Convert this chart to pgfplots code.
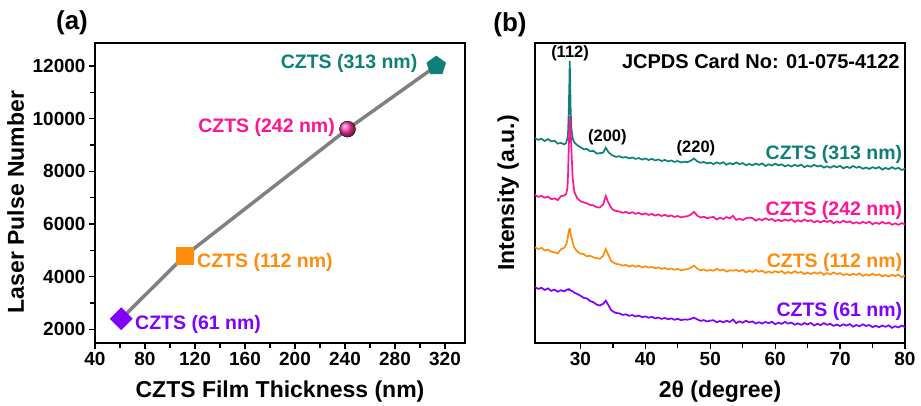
\documentclass[border=0pt]{standalone}
\usepackage{pgfplots}
\pgfplotsset{compat=1.18}
\usepackage{pgfplotstable}
\usepackage{fontspec}
\setmainfont{Liberation Sans}

\definecolor{cTeal}{HTML}{0E8078}
\definecolor{cPink}{HTML}{FF1493}
\definecolor{cOrange}{HTML}{FF8C0A}
\definecolor{cViolet}{HTML}{8000FF}
\definecolor{cLine}{HTML}{808080}

\newcommand\fs[1]{\fontsize{#1}{#1}\selectfont\bfseries}

% XRD patterns, offset stacked (arbitrary units)
\pgfplotstableread{
x     t      p      o      v
23.0  204.8  148.1  95.6   55.9
23.5  203.1  146.2  94.0   54.1
24.0  204.2  147.0  95.1   55.2
24.5  202.0  145.3  92.6   53.0
25.0  203.9  146.4  93.4   54.6
25.5  201.6  143.8  91.2   52.1
26.0  202.3  144.6  90.8   53.4
26.5  199.4  142.9  89.5   51.3
27.0  200.1  146.8  93.7   52.8
27.5  198.6  147.5  95.2   51.6
27.8  200.0  148.9  98.6   52.9
28.0  205.0  155.0  103.0  53.4
28.1  212.0  170.0  108.0  53.8
28.2  232.0  195.0  111.5  53.2
28.3  262.0  215.0  114.0  53.6
28.35 282.0  222.0  114.2  53.1
28.4  268.0  227.0  113.5  53.0
28.5  232.0  210.0  108.5  52.6
28.6  215.0  195.0  106.0  52.2
28.8  205.0  165.0  101.0  51.8
29.0  201.0  154.0  96.2   50.6
29.1  200.3  150.5  95.0   50.2
29.5  197.8  144.7  91.6   49.1
30.0  195.9  141.8  89.4   47.3
30.5  193.8  140.6  88.9   45.1
31.0  194.0  139.5  86.6   44.6
31.5  191.7  138.1  87.3   41.9
32.0  192.2  137.6  85.5   40.8
32.5  189.5  135.8  84.9   38.4
33.0  189.8  135.4  84.2   37.5
33.5  190.4  138.6  87.3   39.2
33.9  195.2  147.0  94.0   42.3
34.3  191.0  140.4  88.1   38.0
34.7  188.6  135.6  82.4   33.2
35.0  187.4  133.3  80.6   31.5
35.5  186.1  132.0  79.1   30.0
36.0  186.8  131.5  78.6   29.6
36.5  185.3  130.2  77.4   28.1
37.0  186.0  131.1  78.0   28.7
37.5  184.6  129.6  76.5   27.2
38.0  185.5  130.8  77.6   27.9
38.5  184.1  129.2  76.3   26.5
39.0  184.9  130.1  77.2   27.4
39.5  183.4  128.5  75.6   25.8
40.0  184.6  129.7  76.8   26.6
40.5  183.0  128.1  75.4   25.2
41.0  184.2  129.0  76.1   26.3
41.5  182.6  127.4  74.7   24.6
42.0  183.5  128.6  75.6   25.5
42.5  182.0  127.0  74.1   24.1
43.0  183.1  128.2  75.0   25.0
43.5  181.6  126.6  73.6   23.8
44.0  182.5  127.5  74.5   24.6
44.5  181.1  126.1  73.2   23.2
45.0  182.0  127.0  74.1   24.2
45.5  180.5  125.6  72.6   22.8
46.0  181.4  126.4  73.4   23.6
46.5  180.9  126.8  73.9   23.3
47.0  182.3  128.4  75.2   24.1
47.5  184.5  131.2  77.4   25.4
48.0  181.6  127.3  74.3   23.6
48.5  180.2  125.5  72.8   22.1
49.0  181.0  126.3  73.6   22.9
49.5  179.6  124.8  72.2   21.5
50.0  180.4  125.6  73.1   22.4
50.5  178.9  126.1  72.2   22.8
51.0  180.6  123.5  74.2   20.7
51.5  179.3  125.2  72.5   22.0
52.0  180.8  123.9  73.5   20.6
52.5  178.2  125.9  71.4   22.3
53.0  179.9  124.7  72.7   21.0
53.5  178.6  127.2  72.3   23.5
54.0  180.6  123.1  73.0   19.9
54.5  178.9  124.4  71.7   21.6
55.0  179.9  123.0  73.2   20.3
55.5  177.8  124.7  70.6   22.3
56.0  179.1  125.4  72.3   20.6
56.5  177.7  124.9  71.0   21.6
57.0  179.4  122.3  73.0   19.5
57.5  178.1  124.0  71.3   20.8
58.0  179.6  122.7  72.3   19.4
58.5  177.0  124.7  70.2   21.1
59.0  178.7  123.0  71.5   19.8
59.5  177.4  124.0  70.1   21.3
60.0  179.4  121.9  71.8   18.7
60.5  177.7  123.2  70.5   20.4
61.0  178.7  121.8  72.0   19.1
61.5  176.6  123.5  69.4   21.1
62.0  177.9  122.2  71.1   19.4
62.5  176.5  123.7  69.8   20.4
63.0  178.2  121.1  71.8   18.3
63.5  176.9  122.8  70.1   19.6
64.0  178.4  121.5  71.1   18.2
64.5  175.8  123.5  69.0   19.9
65.0  177.5  121.8  70.3   18.6
65.5  176.2  122.8  68.9   20.1
66.0  178.2  120.7  70.6   17.5
66.5  176.5  122.0  69.3   19.2
67.0  177.5  120.6  70.8   17.9
67.5  175.4  122.3  68.2   19.9
68.0  176.7  121.0  69.9   18.2
68.5  175.3  122.5  68.6   19.2
69.0  177.0  119.9  70.6   17.1
69.5  175.7  121.6  68.9   18.4
70.0  177.2  120.3  69.9   17.0
70.5  174.6  122.3  67.8   18.7
71.0  176.3  120.6  69.1   17.4
71.5  175.0  121.6  67.7   18.9
72.0  177.0  119.5  69.4   16.3
72.5  175.3  120.8  68.1   18.0
73.0  176.3  119.4  69.6   16.7
73.5  174.2  121.1  67.0   18.7
74.0  175.5  119.8  68.7   17.0
74.5  174.1  121.3  67.4   18.0
75.0  175.8  118.7  69.4   15.9
75.5  174.5  120.4  67.7   17.2
76.0  176.0  119.1  68.7   15.8
76.5  173.4  121.1  66.6   17.5
77.0  175.1  119.4  67.9   16.2
77.5  173.8  120.4  66.5   17.7
78.0  175.8  118.3  68.2   15.1
78.5  174.1  119.6  66.9   16.8
79.0  175.1  118.2  68.4   15.5
79.5  173.0  119.9  65.8   17.5
80.0  174.3  118.6  67.5   15.8
}\xrd

\pgfplotsset{panel/.style={
  scale only axis, width=370pt, height=300pt,
  axis line style={line width=1.6pt},
  tick pos=left, tick align=outside,
  major tick length=6pt, minor tick length=5pt,
  tick style={black, line width=1.3pt},
  minor tick num=1,
  /pgf/number format/assume math mode=true,
  /pgf/number format/1000 sep={},
  scaled ticks=false,
  xticklabel={\fs{19}\pgfmathprintnumber{\tick}},
  yticklabel={\fs{19}\pgfmathprintnumber{\tick}},
  label style={font=\fs{23}},
  xlabel style={at={(axis description cs:0.5,0)}, anchor=base, yshift=-55pt},
  clip=false,
}}

\begin{document}
\begin{tikzpicture}
\path[use as bounding box] (-95pt,-63pt) rectangle (826pt,343pt);

% (a) pulse number vs thickness
\begin{axis}[panel, at={(0pt,0pt)}, anchor=south west,
  xmin=40, xmax=336, ymin=1480, ymax=12870,
  xtick={40,80,...,320}, ytick={2000,4000,...,12000},
  xlabel={CZTS Film Thickness (nm)},
  ylabel={Laser Pulse Number},
  ylabel style={at={(axis description cs:0,0.47)}, anchor=base, yshift=71pt},
]
\addplot[cLine, line width=3.5pt] coordinates {(61,2400) (112,4800) (242,9600) (313,12000)};
\addplot[only marks, mark=square*, mark size=7.8pt, mark options={rotate=45}, color=cViolet] coordinates {(61,2400)};
\addplot[only marks, mark=square*, mark size=8.5pt, color=cOrange] coordinates {(112,4800)};
\addplot[only marks, mark=ball, mark size=8pt, ball color=cPink!85!white] coordinates {(242,9600)};
\addplot[only marks, mark=pentagon*, mark size=10pt, color=cTeal] coordinates {(313,12000)};
\node[anchor=base east, inner sep=0, font=\fs{19.5}, text=cTeal] at (axis cs:298,11890) {CZTS (313 nm)};
\node[anchor=base east, inner sep=0, font=\fs{19.5}, text=cPink] at (axis cs:232,9490) {CZTS (242 nm)};
\node[anchor=base west, inner sep=0, font=\fs{19.5}, text=cOrange] at (axis cs:121.6,4360) {CZTS (112 nm)};
\node[anchor=base west, inner sep=0, font=\fs{19.5}, text=cViolet] at (axis cs:72,2000) {CZTS (61 nm)};
\end{axis}

% (b) XRD
\begin{axis}[panel, at={(440pt,0pt)}, anchor=south west,
  xmin=23, xmax=80, ymin=0, ymax=300,
  xtick={30,40,...,80}, ytick=\empty,
  xlabel={2θ (degree)},
  ylabel={Intensity (a.u.)},
  ylabel style={at={(axis description cs:0,0.5)}, anchor=base, yshift=21pt},
  clip=true,
]
\addplot[cTeal, line width=1.7pt] table[x=x, y=t] {\xrd};
\addplot[cPink, line width=1.7pt] table[x=x, y=p] {\xrd};
\addplot[cOrange, line width=1.7pt] table[x=x, y=o] {\xrd};
\addplot[cViolet, line width=1.7pt] table[x=x, y=v] {\xrd};
\node[anchor=base east, inner sep=0, font=\fs{20}] at (axis cs:79.2,274) {JCPDS Card No: 01-075-4122};
\node[anchor=base, inner sep=0, font=\fs{16.5}] at (axis cs:28.4,285) {(112)};
\node[anchor=base, inner sep=0, font=\fs{16.5}] at (axis cs:34.15,201) {(200)};
\node[anchor=base, inner sep=0, font=\fs{16.5}] at (axis cs:47.8,190) {(220)};
\node[anchor=base east, inner sep=0, font=\fs{19.5}, text=cTeal] at (axis cs:79.6,183) {CZTS (313 nm)};
\node[anchor=base east, inner sep=0, font=\fs{19.5}, text=cPink] at (axis cs:79.6,127) {CZTS (242 nm)};
\node[anchor=base east, inner sep=0, font=\fs{19.5}, text=cOrange] at (axis cs:79.6,75) {CZTS (112 nm)};
\node[anchor=base east, inner sep=0, font=\fs{19.5}, text=cViolet] at (axis cs:79.6,26) {CZTS (61 nm)};
\end{axis}

\node[anchor=base, inner sep=0, font=\fs{26}] at (-23pt,313pt) {(a)};
\node[anchor=base, inner sep=0, font=\fs{26}] at (415pt,311pt) {(b)};
\end{tikzpicture}
\end{document}
